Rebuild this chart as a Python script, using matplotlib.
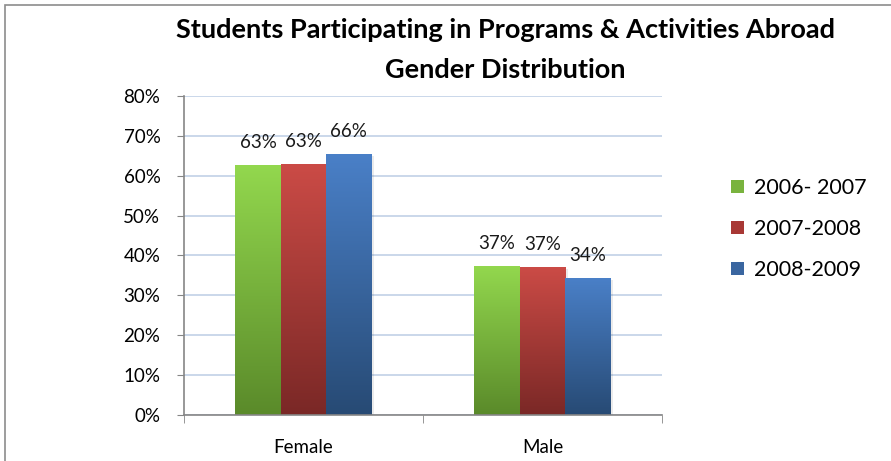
import matplotlib
matplotlib.use('Agg')
import matplotlib.pyplot as plt
from matplotlib.patches import Rectangle, Patch
from matplotlib.colors import LinearSegmentedColormap
from matplotlib.ticker import FixedLocator, PercentFormatter
import numpy as np

categories = ['Female', 'Male']
years = ['2006- 2007', '2007-2008', '2008-2009']
pct_0607 = [62.7, 37.4]
pct_0708 = [62.9, 37.1]
pct_0809 = [65.5, 34.4]
series = [pct_0607, pct_0708, pct_0809]

# (top colour, bottom colour) like the Excel gradient fill
colors = [('#93d84e', '#5a8a2a'),
          ('#cb4b46', '#7a2826'),
          ('#4a80c8', '#274a74')]

plt.rcParams['font.family'] = ['Lato', 'DejaVu Sans']

fig = plt.figure(figsize=(8.91, 4.61), dpi=100, facecolor='white')
ax = fig.add_axes([184 / 891, 1 - 415 / 461, (662 - 184) / 891, (415 - 96) / 461])

x = np.arange(len(categories))
width = 0.19
grad = np.linspace(0, 1, 256).reshape(-1, 1)

for i, (vals, (top, bot)) in enumerate(zip(series, colors)):
    offs = (i - 1) * width
    bars = ax.bar(x + offs, vals, width, color=bot, linewidth=0, zorder=2)
    cmap = LinearSegmentedColormap.from_list('g%d' % i, [bot, top])
    for b in bars:
        bx, by = b.get_x(), b.get_y()
        bw, bh = b.get_width(), b.get_height()
        # soft shadow
        ax.add_patch(Rectangle((bx + 0.012, by - 0.6), bw, bh, color='#000000',
                               alpha=0.08, lw=0, zorder=1.5))
        im = ax.imshow(grad, extent=[bx, bx + bw, by, by + bh], origin='lower',
                       cmap=cmap, aspect='auto', zorder=2.5)
        im.set_clip_path(b)
        ax.annotate('%d%%' % round(b.get_height()), (bx + bw / 2, by + bh),
                    xytext=(0, 10), textcoords='offset points', ha='center',
                    va='bottom', fontsize=13.5, color='#1a1a1a', zorder=4)

ax.set_xlim(-0.5, 1.5)
ax.set_ylim(0, 80)
ax.yaxis.set_major_locator(FixedLocator(np.arange(0, 81, 10)))
ax.yaxis.set_major_formatter(PercentFormatter(decimals=0))
ax.set_xticks(x)
ax.set_xticklabels(categories)
ax.xaxis.set_minor_locator(FixedLocator([-0.5, 0.5, 1.5]))
ax.tick_params(axis='x', which='major', length=0, pad=17, labelsize=13.5)
ax.tick_params(axis='x', which='minor', length=6, color='#868686', direction='out')
ax.tick_params(axis='y', length=5, color='#868686', labelsize=13.5, pad=12)

ax.grid(axis='y', color='#c6d4e8', linewidth=1.3, zorder=0)
ax.set_axisbelow(True)
for s in ['top', 'right']:
    ax.spines[s].set_visible(False)
for s in ['left', 'bottom']:
    ax.spines[s].set_color('#868686')
    ax.spines[s].set_linewidth(1.2)

fig.text(505 / 891, 1 - 30 / 461, 'Students Participating in Programs & Activities Abroad',
         ha='center', va='center', fontsize=19.5, fontweight='bold')
fig.text(505 / 891, 1 - 70 / 461, 'Gender Distribution',
         ha='center', va='center', fontsize=19.5, fontweight='bold')

handles = [Patch(facecolor=c, edgecolor='none') for c in ['#79b33e', '#a83835', '#3a66a0']]
fig.legend(handles, years, loc='upper left', bbox_to_anchor=(731 / 891, 1 - 178 / 461),
           frameon=False, fontsize=15.5, handlelength=0.6, handleheight=0.6,
           handletextpad=0.45, labelspacing=0.98, borderaxespad=0, borderpad=0)

# outer chart border
fig.patches.append(Rectangle((5 / 891, -0.1), 1.1, 1 - 5 / 461 + 0.1,
                             transform=fig.transFigure, fill=False,
                             edgecolor='#8c8c8c', linewidth=1.2))

fig.savefig('out.png', dpi=100, facecolor='white')
